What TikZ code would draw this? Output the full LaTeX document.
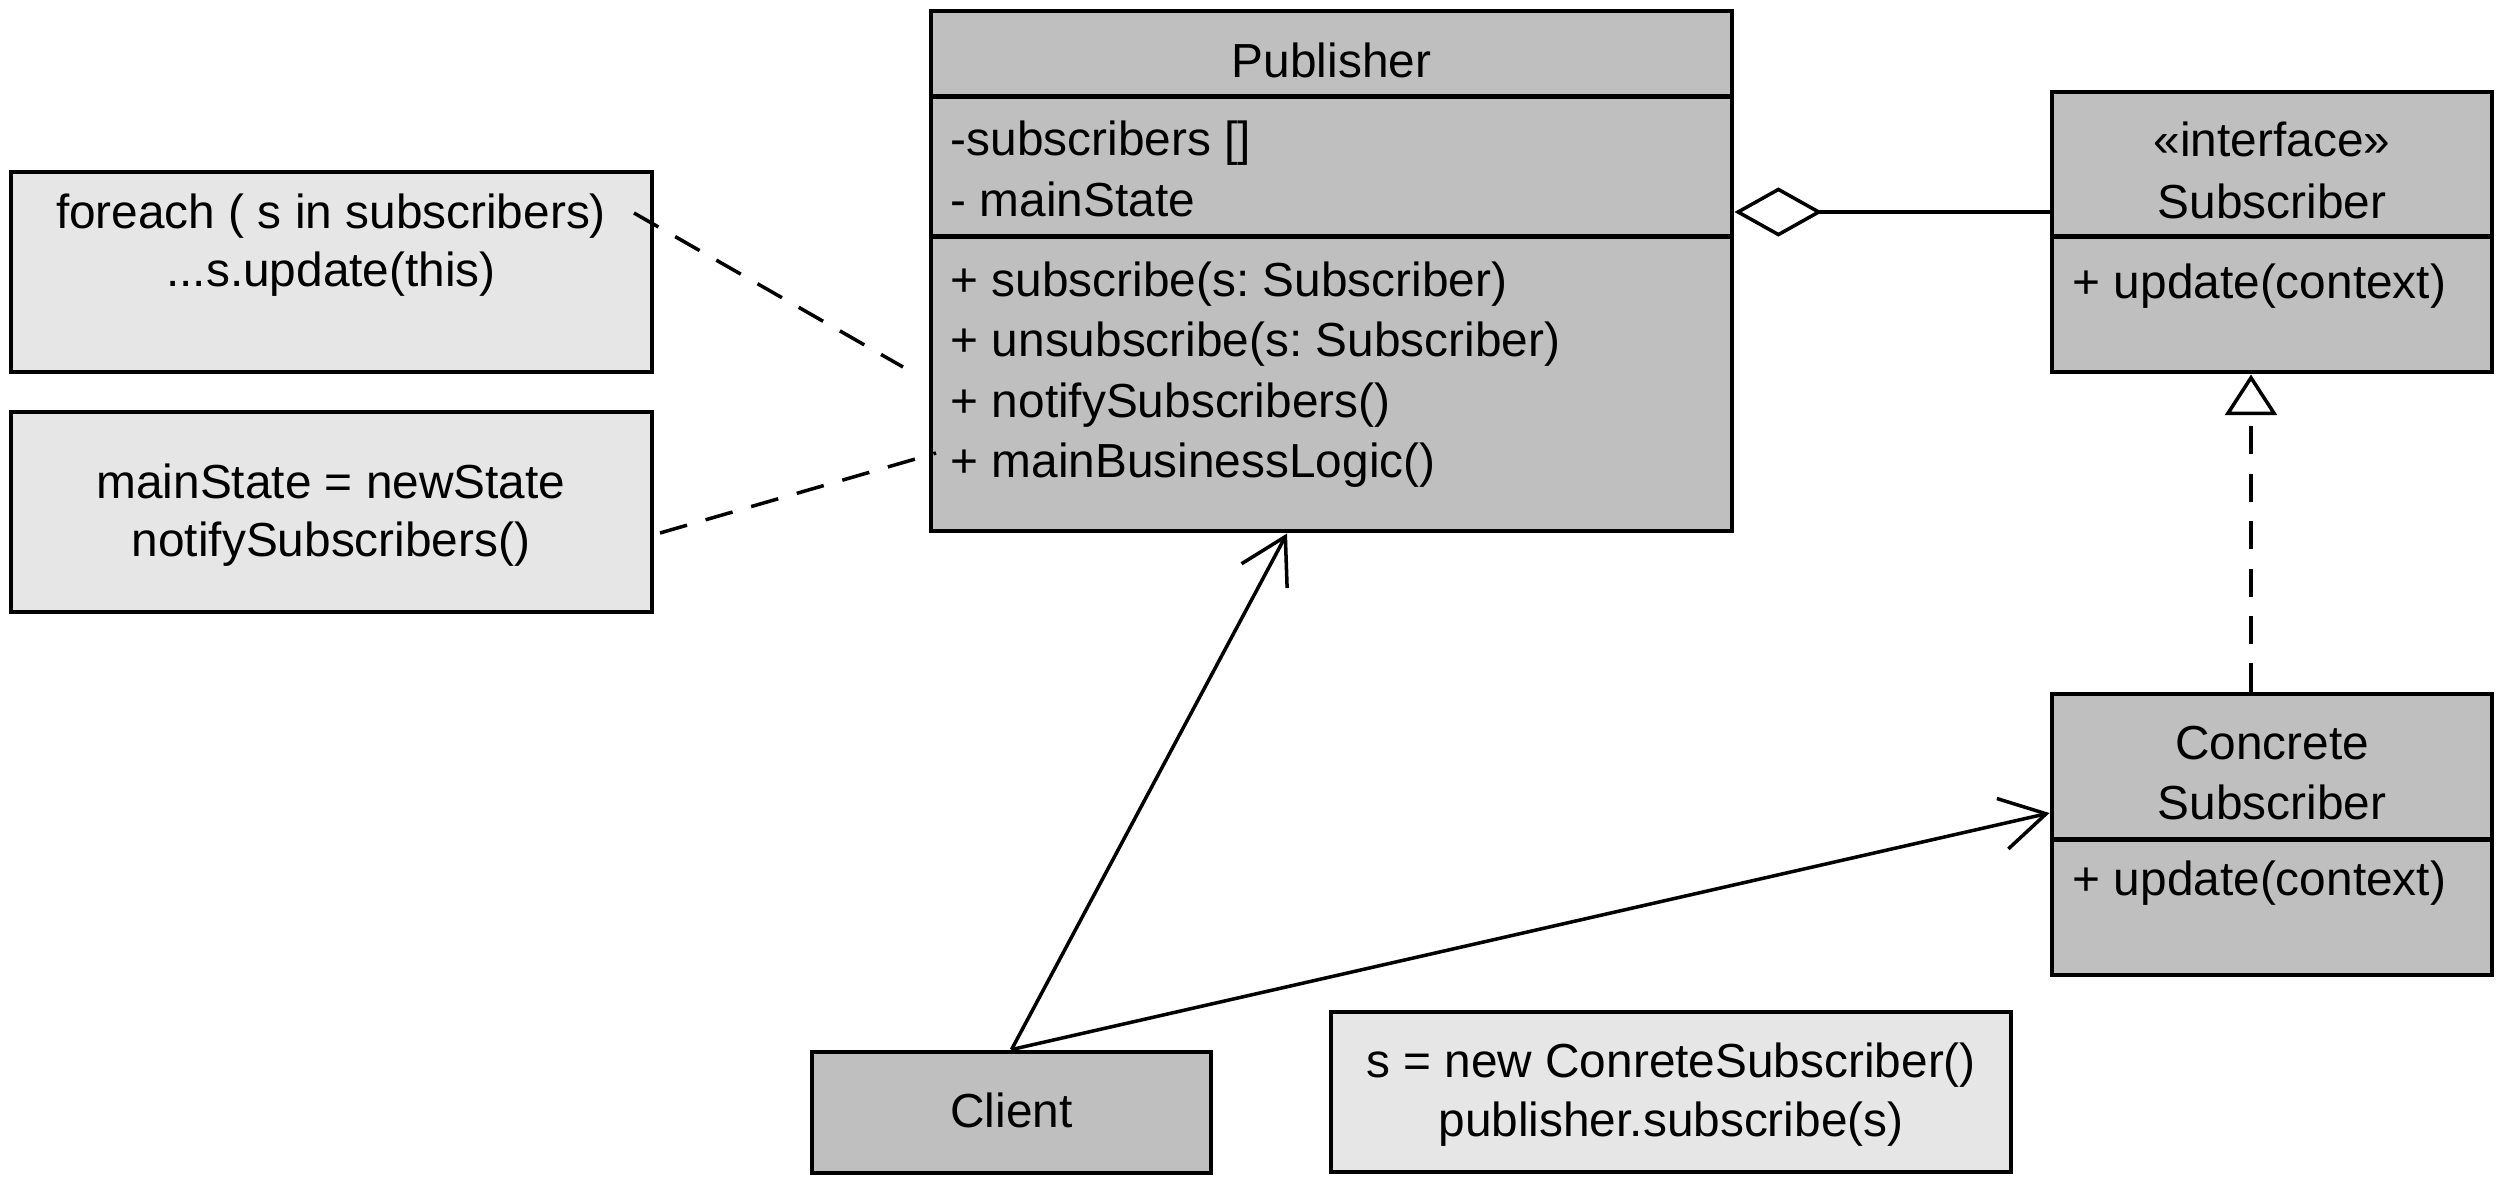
\documentclass[tikz,border=0pt]{standalone}
\usepackage{fontspec}
\setmainfont{Liberation Sans}
\usetikzlibrary{arrows, arrows.meta}
\usetikzlibrary{calc}
\definecolor{classgray}{RGB}{191,191,191}
\definecolor{notegray}{RGB}{230,230,230}
\frenchspacing

\begin{document}
\begin{tikzpicture}[
    classbox/.style={rectangle, draw, line width=1.4pt, fill=classgray, inner sep=0pt},
    notebox/.style={rectangle, draw, line width=1.4pt, fill=notegray, inner sep=0pt},
    txt/.style={inner sep=0pt, anchor=base, font=\fontsize{13.6}{16}\selectfont},
    member/.style={txt, anchor=base west},
    divider/.style={line width=1.4pt},
    link/.style={line width=1pt},
    dashlink/.style={link, dash pattern=on 8pt off 5.5pt},
  ]
    \useasboundingbox (0,0) rectangle (25,-11.8);

    % publisher class
    \node[classbox, minimum width=8.01cm, minimum height=5.2cm] (pub) at (13.315,-2.71) {};
    \draw[divider] ($(pub.north west)+(0,-0.88)$) -- ($(pub.north east)+(0,-0.88)$);
    \draw[divider] ($(pub.north west)+(0,-2.28)$) -- ($(pub.north east)+(0,-2.28)$);
    \node[txt] (pubname) at (13.315,-0.77) {Publisher};
    \node[member] (pubattr1) at (9.50,-1.55) {-subscribers []};
    \node[member] (pubattr2) at (9.50,-2.16) {- mainState};
    \node[member] (pubop1) at (9.50,-2.96) {+ subscribe(s: Subscriber)};
    \node[member] (pubop2) at (9.50,-3.56) {+ unsubscribe(s: Subscriber)};
    \node[member] (pubop3) at (9.50,-4.17) {+ notifySubscribers()};
    \node[member] (pubop4) at (9.50,-4.77) {+ mainBusinessLogic()};

    % subscriber interface
    \node[classbox, minimum width=4.4cm, minimum height=2.8cm] (iface) at (22.72,-2.32) {};
    \draw[divider] ($(iface.north west)+(0,-1.47)$) -- ($(iface.north east)+(0,-1.47)$);
    \node[txt] (ifacestereo) at (22.72,-1.56) {«interface»};
    \node[txt] (ifacename) at (22.72,-2.18) {Subscriber};
    \node[member] (ifaceop) at (20.72,-2.98) {+ update(context)};

    % concrete subscriber
    \node[classbox, minimum width=4.4cm, minimum height=2.81cm] (conc) at (22.72,-8.345) {};
    \draw[divider] ($(conc.north west)+(0,-1.48)$) -- ($(conc.north east)+(0,-1.48)$);
    \node[txt] (concname1) at (22.72,-7.59) {Concrete};
    \node[txt] (concname2) at (22.72,-8.19) {Subscriber};
    \node[member] (concop) at (20.72,-8.95) {+ update(context)};

    % client
    \node[classbox, minimum width=3.99cm, minimum height=1.21cm] (client) at (10.115,-11.125) {};
    \node[txt] (clientname) at (10.115,-11.27) {Client};

    % notes
    \node[notebox, minimum width=6.41cm, minimum height=2cm] (note1) at (3.315,-2.72) {};
    \node[txt] (note1a) at (3.31,-2.28) {foreach ( s in subscribers)};
    \node[txt] (note1b) at (3.31,-2.86) {...s.update(this)};

    \node[notebox, minimum width=6.41cm, minimum height=2cm] (note2) at (3.315,-5.12) {};
    \node[txt] (note2a) at (3.31,-4.98) {mainState = newState};
    \node[txt] (note2b) at (3.31,-5.56) {notifySubscribers()};

    \node[notebox, minimum width=6.8cm, minimum height=1.6cm] (note3) at (16.71,-10.92) {};
    \node[txt] (note3a) at (16.71,-10.77) {s = new ConreteSubscriber()};
    \node[txt] (note3b) at (16.71,-11.36) {publisher.subscribe(s)};

    % connectors
    \coordinate (n1a) at (6.34,-2.13);
    \coordinate (n1b) at (9.03,-3.67);
    \coordinate (n2a) at (6.60,-5.33);
    \coordinate (n2b) at (9.36,-4.53);
    \draw[dashlink] (n1a) -- (n1b);
    \draw[dashlink] (n2a) -- (n2b);

    \draw[link, -{Diamond[open, length=25pt, width=14pt]}] (iface.west |- 0,-2.12) -- (pub.east |- 0,-2.12);
    \draw[dashlink, -{Triangle[open, length=11.6pt, width=14.8pt]}] (conc.north -| 22.51,0) -- (iface.south -| 22.51,0);
    \draw[link, -{Straight Barb[length=12.7pt, width=14.7pt]}] (client.north) -- (pub.south -| 12.87,0);
    \draw[link, -{Straight Barb[length=12.7pt, width=14.7pt]}] (client.north) -- (conc.west |- 0,-8.13);
  \end{tikzpicture}
\end{document}
